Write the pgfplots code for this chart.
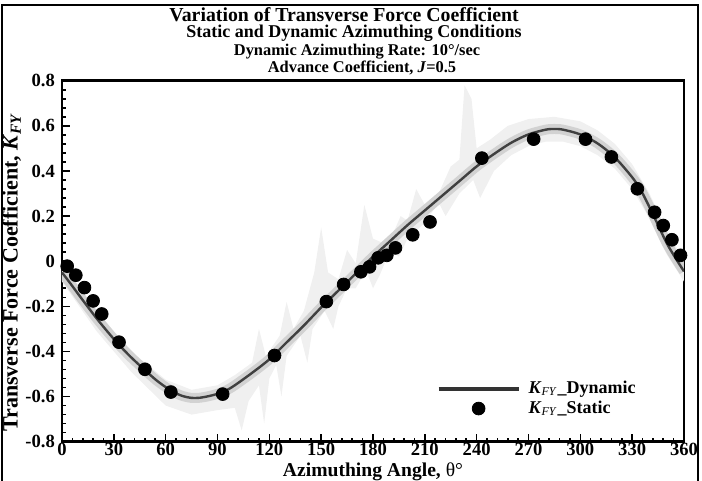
\documentclass[border=0pt]{standalone}
\usepackage{pgfplots}
\pgfplotsset{compat=1.18}
\usepackage{pgfplotstable}
\usepackage{fontspec}
\setmainfont{Liberation Serif}

\pgfplotstableread{
th k
0 -0.050
5 -0.100
10 -0.152
15 -0.203
20 -0.253
25 -0.300
30 -0.345
35 -0.387
40 -0.426
45 -0.462
50 -0.497
55 -0.530
60 -0.558
65 -0.582
70 -0.598
75 -0.606
80 -0.605
85 -0.598
90 -0.588
95 -0.573
100 -0.550
110 -0.495
120 -0.435
130 -0.360
140 -0.285
150 -0.205
160 -0.130
170 -0.055
180 0.020
190 0.090
200 0.160
210 0.225
220 0.290
230 0.355
240 0.420
250 0.475
260 0.525
270 0.562
280 0.583
285 0.586
290 0.583
300 0.562
310 0.522
320 0.460
330 0.372
335 0.315
340 0.240
345 0.160
350 0.080
355 0.015
360 -0.045
}\dyn

\pgfplotstableread{
th k
3 -0.022
8 -0.062
13 -0.117
18 -0.176
23 -0.234
33 -0.359
48 -0.479
63 -0.580
93 -0.589
123 -0.418
153 -0.179
163 -0.103
173 -0.047
178 -0.025
183 0.015
188 0.026
193 0.059
203 0.117
213 0.174
243 0.457
273 0.541
303 0.541
318 0.462
333 0.321
343 0.217
348 0.158
353 0.095
358 0.026
}\stat

\begin{document}
\begin{tikzpicture}
\useasboundingbox (0,0) rectangle (351pt,240.5pt);
\draw[line width=1.2pt] (1pt,0) -- (1pt,238pt) -- (349pt,238pt) -- (349pt,0);
\node[font=\bfseries\fontsize{9.9}{10}\selectfont] at (172pt,233pt) {Variation of Transverse Force Coefficient};
\node[font=\bfseries\fontsize{9}{10}\selectfont] at (177pt,224pt) {Static and Dynamic Azimuthing Conditions};
\node[font=\bfseries\fontsize{8.2}{9}\selectfont] at (178.5pt,214.5pt) {Dynamic Azimuthing Rate: 10°/sec};
\node[font=\bfseries\fontsize{8.2}{9}\selectfont] at (181pt,206.3pt) {Advance Coefficient, \textit{J}=0.5};
\begin{axis}[
  at={(31pt,19.65pt)}, anchor=south west,
  scale only axis, width=311pt, height=180.5pt,
  xmin=0, xmax=360, ymin=-0.8, ymax=0.8,
  xtick={0,30,...,360},
  ytick={-0.8,-0.6,-0.4,-0.2,0,0.2,0.4,0.6,0.8},
  yticklabels={-0.8,-0.6,-0.4,-0.2,0,0.2,0.4,0.6,0.8},
  minor x tick num=4, minor y tick num=4,
  tick align=inside, tick pos=left,
  major tick length=4pt, minor tick length=2pt,
  every tick/.style={black, line width=0.8pt},
  axis line style={line width=1.3pt},
  /pgf/number format/assume math mode=true,
  ticklabel style={font=\bfseries\fontsize{9.3}{10}\selectfont},
  xticklabel style={inner sep=1pt, yshift=0.4pt},
  xlabel={Azimuthing Angle, {\mdseries θ°}},
  ylabel={Transverse Force Coefficient, \textit{K}\textsubscript{\textit{FY}}},
  every axis x label/.style={at={(axis description cs:0.5,-0.083)}, anchor=center, inner sep=0pt, font=\bfseries\fontsize{9.8}{11}\selectfont},
  every axis y label/.style={at={(axis description cs:-0.081,0.47)}, anchor=center, rotate=90, inner sep=0.5pt, font=\bfseries\fontsize{11}{12}\selectfont},
  legend style={at={(0.592,0.185)}, anchor=north west, draw=none, fill=none,
    font=\bfseries\fontsize{9}{10}\selectfont, nodes={inner sep=1pt}, column sep=3pt, row sep=0pt},
  legend cell align=left,
]
\addplot[fill=gray!12, draw=none, forget plot] coordinates {
(0,-0.02)(20,-0.22)(40,-0.40)(60,-0.525)(75,-0.57)(90,-0.55)(100,-0.505)(110,-0.45)(114,-0.30)(118,-0.42)(126,-0.33)(130,-0.18)(134,-0.30)(140,-0.22)(146,-0.05)(150,0.15)(154,-0.05)(160,-0.08)(165,0.05)(170,-0.01)(175,0.25)(180,0.10)(186,0.08)(192,0.13)(196,0.20)(200,0.18)(205,0.32)(210,0.25)(218,0.30)(225,0.42)(230,0.45)(233,0.78)(237,0.72)(240,0.50)(248,0.54)(258,0.60)(270,0.63)(285,0.64)(300,0.62)(310,0.58)(320,0.52)(330,0.43)(340,0.30)(350,0.14)(360,0.0)
(360,-0.09)(350,0.03)(340,0.19)(330,0.32)(320,0.41)(310,0.47)(300,0.51)(290,0.53)(280,0.53)(270,0.51)(260,0.47)(250,0.40)(242,0.28)(238,0.36)(230,0.30)(222,0.20)(218,0.26)(210,0.17)(200,0.10)(195,0.02)(190,0.05)(184,-0.06)(180,-0.12)(176,-0.04)(170,-0.12)(165,-0.12)(160,-0.20)(157,-0.30)(152,-0.22)(145,-0.30)(142,-0.45)(138,-0.33)(130,-0.42)(127,-0.60)(124,-0.46)(120,-0.52)(117,-0.72)(114,-0.55)(108,-0.62)(104,-0.75)(100,-0.65)(90,-0.66)(75,-0.68)(60,-0.64)(40,-0.49)(20,-0.31)(0,-0.09)
} -- cycle;
\addplot[gray!35, line width=5pt, smooth, forget plot] table[x=th,y=k] {\dyn};
\addplot[black!75, line width=1.2pt, smooth,
  legend image code/.code={\draw[black!80, line width=2pt] (0pt,0pt) -- (40pt,0pt);}]
  table[x=th,y=k] {\dyn};
\addlegendentry{\textit{K}\textsubscript{\textit{\mdseries FY}}\_Dynamic}
\addplot[only marks, mark=*, mark size=3.2pt, black,
  legend image code/.code={\fill[black] (20pt,0pt) circle (3.2pt);}]
  table[x=th,y=k] {\stat};
\addlegendentry{\textit{K}\textsubscript{\textit{\mdseries FY}}\_Static}
\end{axis}
\end{tikzpicture}
\end{document}
